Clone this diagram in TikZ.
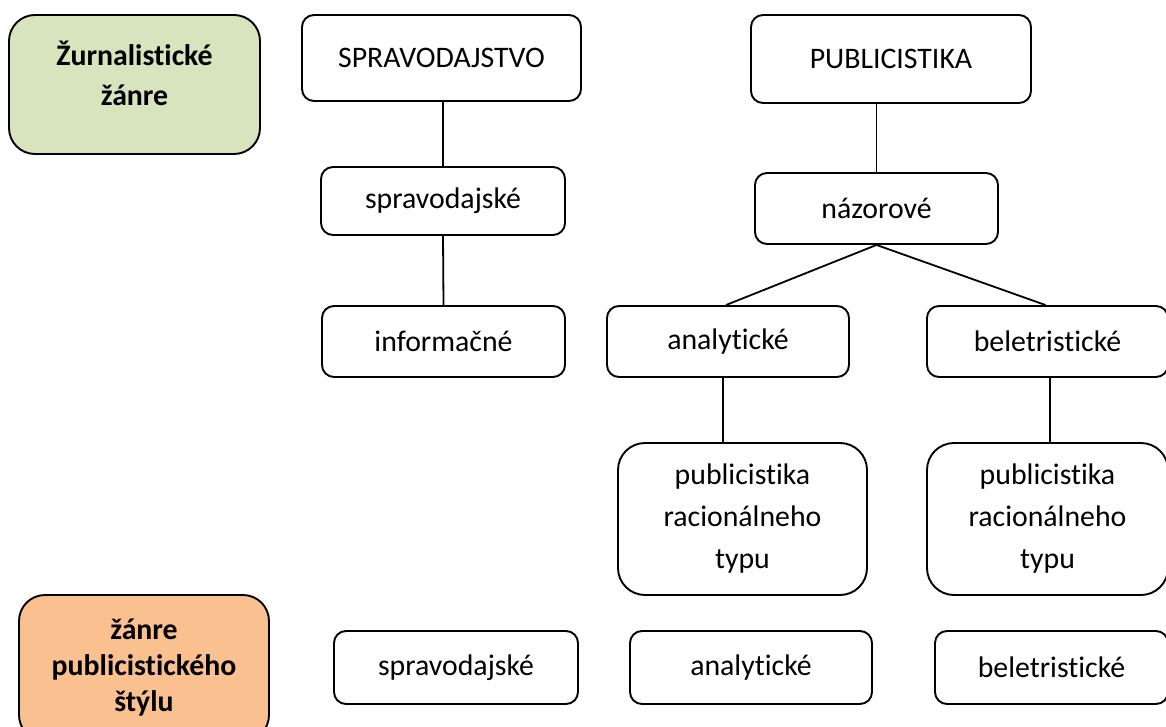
\documentclass[tikz,border=0pt]{standalone}
\usepackage{fontspec}
\setmainfont{Carlito}[Ligatures={NoCommon,NoRare}]
\definecolor{zgreen}{HTML}{D7E4BD}
\definecolor{zorange}{HTML}{FAC090}
\begin{document}
\begin{tikzpicture}[x=1pt,y=-1pt,
  box/.style={draw, line width=1.9pt, rounded corners=12pt, inner sep=0pt, align=center,
    font=\fontsize{29.8}{42}\selectfont},
  bigbox/.style={box, rounded corners=27pt},
  sidebox/.style={draw, line width=1.9pt, rounded corners=26pt, inner sep=0pt, align=center,
    font=\bfseries\fontsize{29.8}{40}\selectfont},
  conn/.style={line width=1.8pt}]
\useasboundingbox (0,0) rectangle (1166,727);
\clip (0,0) rectangle (1166,727);

\node[sidebox, fill=zgreen, minimum width=251pt, minimum height=139pt,
  label={[name=zzlab, align=center, font=\bfseries\fontsize{29.8}{40}\selectfont, yshift=11pt]center:Žurnalistické\\žánre}]
  (zz) at (134.5,84.5) {};
\node[sidebox, fill=zorange, minimum width=250pt, minimum height=146pt,
  font=\bfseries\fontsize{29.8}{36}\selectfont] (zps) at (144,668)
  {žánre\\publicistického\\štýlu};

\node[box, minimum width=279pt, minimum height=86pt] (sprav) at (441.5,58) {SPRAVODAJSTVO};
\node[box, minimum width=280pt, minimum height=88pt] (publ) at (891,59) {PUBLICISTIKA};
\node[box, minimum width=244pt, minimum height=68pt] (spr2) at (443,201) {spravodajské};
\node[box, minimum width=243pt, minimum height=71pt] (naz) at (876.5,208.5) {názorové};
\node[box, minimum width=243pt, minimum height=71pt] (inf) at (443.5,341.5) {informačné};
\node[box, minimum width=242pt, minimum height=71pt] (ana) at (728,341.5) {analytické};
\node[box, minimum width=241pt, minimum height=71pt] (bel) at (1047.5,341.5) {beletristické};
\node[bigbox, minimum width=249pt, minimum height=152pt] (pub1) at (742.5,519) {publicistika\\racionálneho\\typu};
\node[bigbox, minimum width=241pt, minimum height=152pt] (pub2) at (1047.5,519) {publicistika\\racionálneho\\typu};
\node[box, minimum width=244pt, minimum height=73pt] (b1) at (456,667.5) {spravodajské};
\node[box, minimum width=242pt, minimum height=73pt] (b2) at (751,667.5) {analytické};
\node[box, minimum width=233pt, minimum height=73pt] (b3) at (1051.5,667.5) {beletristické};

\draw[conn] (spr2.north |- sprav.south) -- (spr2.north);
\draw[conn] (spr2.south) -- (inf.north);
\draw[conn] (naz.north |- publ.south) -- (naz.north);
\draw[conn] (naz.south) -- ([xshift=-2pt]ana.north);
\draw[conn] (naz.south) -- ([xshift=-2pt]bel.north);
\draw[conn] ([xshift=-5pt]ana.south) -- ([xshift=-5pt]ana.south |- pub1.north);
\draw[conn] ([xshift=2.5pt]bel.south) -- ([xshift=2.5pt]bel.south |- pub2.north);
\end{tikzpicture}
\end{document}
